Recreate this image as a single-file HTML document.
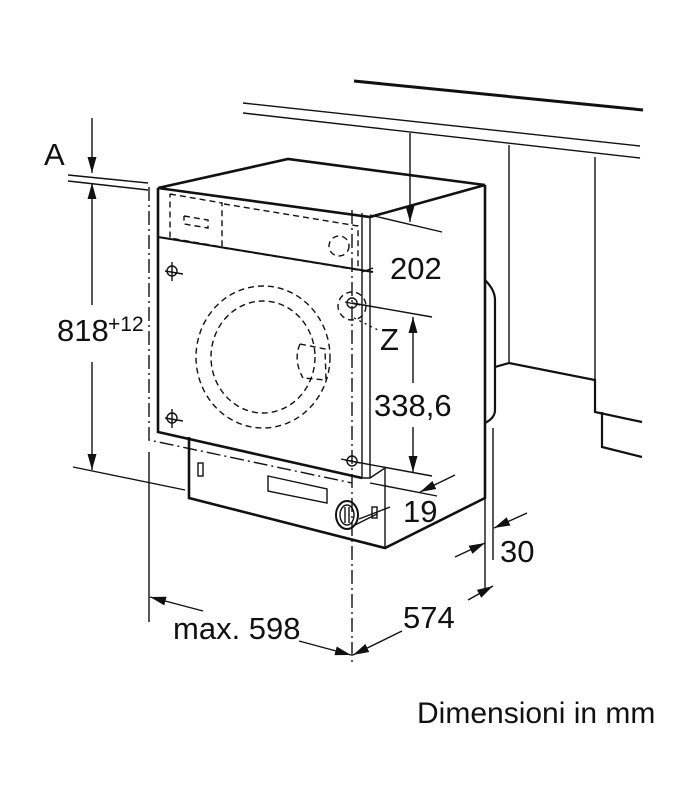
<!DOCTYPE html>
<html><head><meta charset="utf-8"><style>
html,body{margin:0;padding:0;background:#fff}
svg{display:block}
text{font-family:"Liberation Sans",sans-serif;fill:#111}
</style></head><body>
<svg width="694" height="800" viewBox="0 0 694 800" xmlns="http://www.w3.org/2000/svg">
<defs>
<marker id="ar" viewBox="0 0 10 10" refX="10" refY="5" markerWidth="16" markerHeight="16" orient="auto-start-reverse" markerUnits="userSpaceOnUse"><path d="M0,2.2 L10,5 L0,7.8 Z" fill="#111"/></marker>
</defs>
<g stroke="#111" fill="none" stroke-width="1.4">
<line x1="354" y1="81" x2="643" y2="110" stroke-width="3"/>
<line x1="243" y1="103" x2="640" y2="146"/>
<line x1="243" y1="113" x2="640" y2="158"/>
<line x1="509" y1="145" x2="509" y2="363"/>
<line x1="595" y1="157" x2="595" y2="412"/>
<polyline points="495,367 509,363 595,380 595,412 642,422" stroke-width="2.2"/>
<polyline points="602,412 602,447 642,457" stroke-width="2.2"/>
<path d="M485,280 Q495,290 495,300 L495,410 Q495,418 485,423" stroke-width="2.2"/>
<line x1="493" y1="428" x2="493" y2="560"/>
<polygon points="158,188 288,159 485,185 370,217" stroke-width="2.6"/>
<polyline points="485,185 485,498 385,548 189,498 189,437" stroke-width="2.6"/>
<polyline points="158,188 158,432 362,478" stroke-width="2.6"/>
<line x1="362" y1="213" x2="362" y2="478"/>
<line x1="370" y1="217" x2="370" y2="478"/>
<line x1="385" y1="468" x2="385" y2="548"/>
<polyline points="362,478 370,478 385,468"/>
<line x1="158" y1="237" x2="373" y2="272" stroke-width="2"/>
<line x1="362" y1="272" x2="373" y2="268"/>
<g stroke-dasharray="6,4">
<polyline points="170,194 222,203 222,247 170,238 170,194"/>
<polyline points="224,204 358,226 358,270 224,248"/>
<polyline points="184,216 208,220 208,228 184,224 184,216"/>
<circle cx="339" cy="246" r="10"/>
<ellipse cx="263" cy="357" rx="67" ry="71"/>
<ellipse cx="263" cy="357" rx="52" ry="56"/>
<path d="M300,344 L325,349 L326,380 L303,378 M300,344 Q293,360 303,378"/>
<circle cx="352" cy="306" r="14"/>
</g>
<g stroke-dasharray="14,4,2,4">
<polyline points="149,187 149,440 352,483"/>
<line x1="352" y1="210" x2="352" y2="662"/>
</g>
<g>
<circle cx="172" cy="271" r="5"/><line x1="165" y1="271" x2="183" y2="274"/><line x1="172" y1="262" x2="172" y2="281"/>
<circle cx="172" cy="418" r="5"/><line x1="165" y1="418" x2="183" y2="421"/><line x1="172" y1="409" x2="172" y2="428"/>
<circle cx="352" cy="303" r="5"/><line x1="345" y1="302" x2="360" y2="305"/>
<circle cx="352" cy="461" r="5"/><line x1="341" y1="459" x2="360" y2="463"/>
</g>
<rect x="198" y="463" width="5" height="13"/>
<polygon points="268,476 327,489 327,503 268,491"/>
<ellipse cx="347" cy="515" rx="11" ry="14" stroke-width="2"/>
<ellipse cx="347" cy="515" rx="7" ry="10"/>
<line x1="345" y1="507" x2="345" y2="523"/><line x1="349" y1="507" x2="349" y2="523"/>
<rect x="372" y="507" width="5" height="11"/>
<line x1="355" y1="525" x2="377" y2="514"/>
<line x1="68" y1="175" x2="148" y2="183"/>
<line x1="68" y1="181" x2="148" y2="190"/>
<line x1="92" y1="118" x2="92" y2="173" marker-end="url(#ar)"/>
<line x1="92" y1="305" x2="92" y2="183" marker-end="url(#ar)"/>
<line x1="92" y1="362" x2="92" y2="470" marker-end="url(#ar)"/>
<line x1="73" y1="467" x2="185" y2="490"/>
<line x1="410" y1="133" x2="410" y2="222" marker-end="url(#ar)"/>
<line x1="370" y1="215" x2="442" y2="232"/>
<line x1="352" y1="303" x2="432" y2="317"/>
<line x1="354" y1="318" x2="378" y2="330" stroke-dasharray="2,4"/>
<line x1="413" y1="383" x2="413" y2="317" marker-end="url(#ar)"/>
<line x1="413" y1="427" x2="413" y2="472" marker-end="url(#ar)"/>
<line x1="345" y1="460" x2="432" y2="476"/>
<line x1="370" y1="483" x2="437" y2="496"/>
<line x1="455" y1="475" x2="420" y2="492" marker-end="url(#ar)"/>
<line x1="390" y1="507" x2="359" y2="519"/>
<line x1="455" y1="557" x2="485" y2="543" marker-end="url(#ar)"/>
<line x1="527" y1="513" x2="494" y2="528" marker-end="url(#ar)"/>
<line x1="485" y1="498" x2="485" y2="590"/>
<line x1="149" y1="452" x2="149" y2="622"/>
<line x1="468" y1="600" x2="493" y2="586" marker-end="url(#ar)"/>
<line x1="402" y1="631" x2="353" y2="655" marker-end="url(#ar)"/>
<line x1="203" y1="611" x2="150" y2="597" marker-end="url(#ar)"/>
<line x1="299" y1="641" x2="351" y2="655" marker-end="url(#ar)"/>
</g>
<g font-size="31">
<text x="44" y="165">A</text>
<text x="57" y="341">818</text>
<text x="108" y="331" font-size="21">+12</text>
<text x="390" y="279">202</text>
<text x="380" y="350">Z</text>
<text x="374" y="416">338,6</text>
<text x="403" y="522">19</text>
<text x="500" y="562">30</text>
<text x="403" y="628">574</text>
<text x="173" y="639">max. 598</text>
<text x="417" y="723" font-size="30">Dimensioni in mm</text>
</g>
</svg>
</body></html>
